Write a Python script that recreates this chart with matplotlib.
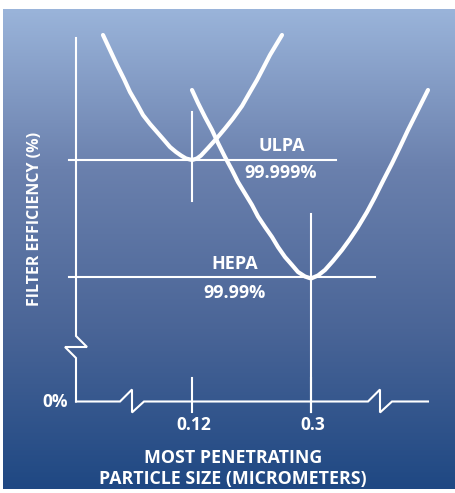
import numpy as np
import matplotlib
matplotlib.use('Agg')
import matplotlib.pyplot as plt
from matplotlib.colors import LinearSegmentedColormap

# ==================== data (schematic units = reference pixels) ====================
# ULPA curve (most penetrating size 0.12 um)
ULPA_X = [103, 110, 117, 124, 130, 137, 143, 150, 157, 164, 170, 176, 181, 186, 192,
          197, 201, 208, 217, 225, 233, 242, 250, 257, 263, 270, 276, 282]
ULPA_Y = [35, 50, 65, 79, 92, 104, 115, 124, 132, 140, 147, 152, 155.5, 158.5, 160,
          158.5, 155.5, 148, 138, 128.5, 118.5, 106, 92, 80, 68.5, 55, 45, 35]

# HEPA curve (most penetrating size 0.3 um)
HEPA_X = [192, 198, 205, 212, 218, 225, 232, 238, 245, 252, 258, 265, 272, 278, 285,
          292, 298, 305, 311, 318, 325, 333, 342, 350, 358, 367, 375, 383, 392,
          400, 408, 418, 428]
HEPA_Y = [90, 103, 117, 130, 143, 157, 170, 182, 193.5, 205, 216.5, 227, 237, 247, 257,
          265, 272, 276.5, 278.5, 275.5, 270, 261, 250, 239, 227, 212, 197, 181, 163.5,
          147, 130, 110, 90]

LEVEL_NAMES = ['ULPA', 'HEPA']
LEVEL_VALUES = ['99.999%', '99.99%']
LEVEL_Y = [160, 277]
LEVEL_X_END = [336, 375]

SIZE_LABELS = ['0.12', '0.3']
SIZE_X = [192, 311]
SIZE_GUIDE_TOP = [112, 214]
SIZE_GUIDE_BOTTOM = [201, 412]

AXIS_X0 = 76          # y axis position
AXIS_Y0 = 401.5       # x axis position (0 %)
AXIS_TOP = 38
AXIS_X_END = 428
# ================================================================================

plt.rcParams['font.family'] = ['Open Sans', 'DejaVu Sans']

fig = plt.figure(figsize=(4.55, 4.93), dpi=100)
fig.patch.set_facecolor('white')
ax = fig.add_axes([0, 0, 1, 1])
ax.set_xlim(0, 455)
ax.set_ylim(493, 0)
ax.axis('off')

# gradient panel
cmap = LinearSegmentedColormap.from_list('panel', ['#9ab4da', '#6a80ad', '#4a6597', '#1f4883'])
grad = np.linspace(0, 1, 256).reshape(-1, 1)
ax.imshow(grad, cmap=cmap, aspect='auto', extent=(3, 455, 489, 9), zorder=0)

W = 'white'
lw_axis = 1.5

# y axis with break
ax.plot([AXIS_X0, AXIS_X0, AXIS_X0 + 11, AXIS_X0 - 11, AXIS_X0, AXIS_X0],
        [AXIS_TOP, 336, 347, 347, 358, AXIS_Y0], color=W, lw=lw_axis, solid_joinstyle='miter')

# x axis with two breaks
bx = [120, 368]
xs = [AXIS_X0]
ys = [AXIS_Y0]
for b in bx:
    xs += [b, b + 12, b + 12, b + 24]
    ys += [AXIS_Y0, AXIS_Y0 - 12, AXIS_Y0 + 11, AXIS_Y0]
xs.append(AXIS_X_END)
ys.append(AXIS_Y0)
ax.plot(xs, ys, color=W, lw=lw_axis, solid_joinstyle='miter')

# efficiency levels
for name, val, y, xe in zip(LEVEL_NAMES, LEVEL_VALUES, LEVEL_Y, LEVEL_X_END):
    ax.plot([69, xe], [y, y], color=W, lw=lw_axis)

# particle size guides and ticks
for lab, x, top, bot in zip(SIZE_LABELS, SIZE_X, SIZE_GUIDE_TOP, SIZE_GUIDE_BOTTOM):
    ax.plot([x, x], [top, bot], color=W, lw=lw_axis)
    ax.plot([x, x], [378, 412], color=W, lw=lw_axis)
    ax.text(x + 2, 425, lab, color=W, fontsize=12.5, fontweight='bold', ha='center', va='center')

# curves
ax.plot(ULPA_X, ULPA_Y, color=W, lw=3, solid_capstyle='round', solid_joinstyle='round')
ax.plot(HEPA_X, HEPA_Y, color=W, lw=3, solid_capstyle='round', solid_joinstyle='round')

# level labels
ax.text(282, 146, 'ULPA', color=W, fontsize=13, fontweight='bold', ha='center', va='center')
ax.text(281, 173, '99.999%', color=W, fontsize=13, fontweight='bold', ha='center', va='center')
ax.text(235, 264, 'HEPA', color=W, fontsize=13, fontweight='bold', ha='center', va='center')
ax.text(235, 292.5, '99.99%', color=W, fontsize=13, fontweight='bold', ha='center', va='center')

ax.text(68, 402, '0%', color=W, fontsize=12.5, fontweight='bold', ha='right', va='center')

# axis titles
ax.text(35.5, 219, 'FILTER EFFICIENCY (%)', color=W, fontsize=11.5, fontweight='bold',
        ha='center', va='center', rotation=90)
ax.text(233, 458, 'MOST PENETRATING', color=W, fontsize=12.8, fontweight='bold',
        ha='center', va='center')
ax.text(233, 479, 'PARTICLE SIZE (MICROMETERS)', color=W, fontsize=12.8, fontweight='bold',
        ha='center', va='center')

fig.savefig('out.png', dpi=100)
